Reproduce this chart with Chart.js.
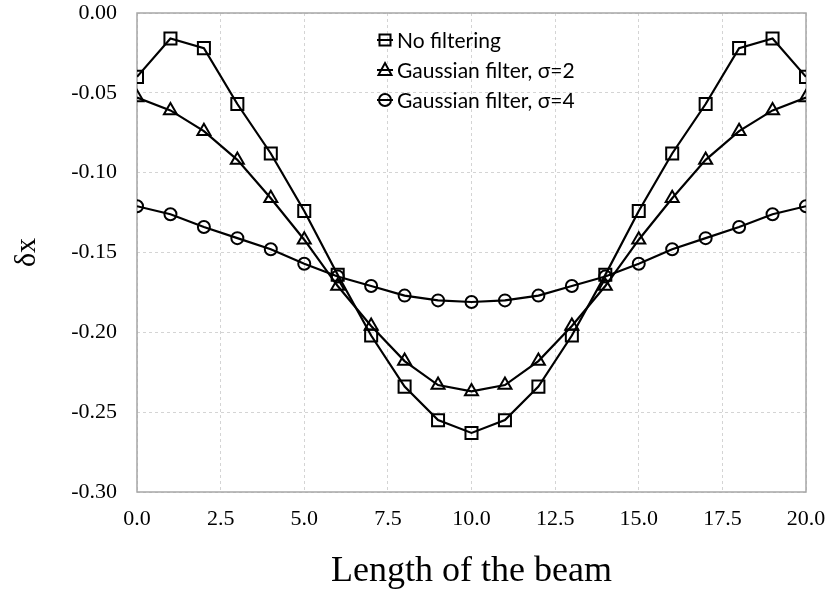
<!DOCTYPE html>
<html lang="en">
<head>
    <meta charset="UTF-8">
    <title>Length of the beam</title>
    <script src="https://cdn.jsdelivr.net/npm/chart.js"></script>
    <style>
        body {
            margin: 0;
            background: #fff;
        }

        .chart-box {
            width: 830px;
            height: 593px;
        }
    </style>
</head>
<body>
    <div class="chart-box">
        <canvas id="beamChart"></canvas>
    </div>

    <script>
        // positions along the beam
        const positions = [0, 1, 2, 3, 4, 5, 6, 7, 8, 9, 10, 11, 12, 13, 14, 15, 16, 17, 18, 19, 20];

        const noFiltering = [-0.040, -0.016, -0.022, -0.057, -0.088, -0.124, -0.164, -0.202, -0.234, -0.255, -0.263,
            -0.255, -0.234, -0.202, -0.164, -0.124, -0.088, -0.057, -0.022, -0.016, -0.040];
        const gaussSigma2 = [-0.053, -0.061, -0.074, -0.092, -0.116, -0.142, -0.171, -0.196, -0.218, -0.233, -0.237,
            -0.233, -0.218, -0.196, -0.171, -0.142, -0.116, -0.092, -0.074, -0.061, -0.053];
        const gaussSigma4 = [-0.121, -0.126, -0.134, -0.141, -0.148, -0.157, -0.165, -0.171, -0.177, -0.180, -0.181,
            -0.180, -0.177, -0.171, -0.165, -0.157, -0.148, -0.141, -0.134, -0.126, -0.121];

        const seriesNames = ['No filtering', 'Gaussian filter, σ=2', 'Gaussian filter, σ=4'];
        const xTicks = [0, 2.5, 5, 7.5, 10, 12.5, 15, 17.5, 20];
        const yTicks = [0, -0.05, -0.10, -0.15, -0.20, -0.25, -0.30];

        const serif = "'Liberation Serif', 'Times New Roman', serif";
        const sans = "Lato, 'Open Sans', sans-serif";

        function toPoints(values) {
            return values.map((v, i) => ({ x: positions[i], y: v }));
        }

        function makeSet(label, values, style, radius) {
            return {
                label: label,
                data: toPoints(values),
                borderColor: '#000',
                backgroundColor: 'rgba(255,255,255,0)',
                borderWidth: 2.2,
                pointStyle: style,
                pointRadius: radius,
                pointBorderWidth: 2,
                pointBorderColor: '#000',
                pointBackgroundColor: 'rgba(255,255,255,0)',
                tension: 0
            };
        }

        function noPadding(scale) {
            scale.paddingTop = 0;
            scale.paddingBottom = 0;
            scale.paddingLeft = 0;
            scale.paddingRight = 0;
        }

        // plot frame drawn on all four sides
        const frame = {
            id: 'frame',
            beforeDatasetsDraw(chart) {
                const { ctx, chartArea: a } = chart;
                ctx.save();
                ctx.strokeStyle = '#a6a6a6';
                ctx.lineWidth = 1.5;
                ctx.strokeRect(a.left, a.top, a.right - a.left, a.bottom - a.top);
                ctx.restore();
            }
        };

        // excel style legend: marker with a short line through it
        const legendBox = {
            id: 'legendBox',
            afterDraw(chart) {
                const ctx = chart.ctx;
                const styles = ['rect', 'triangle', 'circle'];
                const rows = [40, 70, 100];
                const mx = 385;
                ctx.save();
                ctx.strokeStyle = '#000';
                ctx.fillStyle = '#000';
                ctx.lineWidth = 2;
                ctx.font = '21px ' + sans;
                ctx.textBaseline = 'middle';
                seriesNames.forEach((name, i) => {
                    const y = rows[i];
                    ctx.beginPath();
                    ctx.moveTo(mx - 8, y);
                    ctx.lineTo(mx + 8, y);
                    ctx.stroke();
                    ctx.beginPath();
                    if (styles[i] === 'rect') {
                        ctx.rect(mx - 5.5, y - 5.5, 11, 11);
                    } else if (styles[i] === 'triangle') {
                        ctx.moveTo(mx, y - 7);
                        ctx.lineTo(mx + 6.5, y + 5);
                        ctx.lineTo(mx - 6.5, y + 5);
                        ctx.closePath();
                    } else {
                        ctx.arc(mx, y, 6, 0, Math.PI * 2);
                    }
                    ctx.stroke();
                    ctx.fillText(name, 397, y + 1);
                });
                ctx.restore();
            }
        };

        const ctx = document.getElementById('beamChart').getContext('2d');
        const beamChart = new Chart(ctx, {
            type: 'line',
            data: {
                datasets: [
                    makeSet(seriesNames[0], noFiltering, 'rect', 8.5),
                    makeSet(seriesNames[1], gaussSigma2, 'triangle', 7.5),
                    makeSet(seriesNames[2], gaussSigma4, 'circle', 6)
                ]
            },
            plugins: [frame, legendBox],
            options: {
                responsive: true,
                maintainAspectRatio: false,
                animation: false,
                layout: {
                    padding: { left: 0, right: 24, top: 13, bottom: 0 }
                },
                plugins: {
                    legend: { display: false },
                    tooltip: { enabled: false }
                },
                scales: {
                    x: {
                        type: 'linear',
                        min: 0,
                        max: 20,
                        afterBuildTicks: function(scale) {
                            scale.ticks = xTicks.map(v => ({ value: v }));
                        },
                        afterFit: function(scale) {
                            scale.height = 101;
                            noPadding(scale);
                        },
                        grid: {
                            color: '#d4d4d4',
                            lineWidth: 1,
                            drawTicks: false
                        },
                        border: { display: false, dash: [3, 3] },
                        ticks: {
                            color: '#000',
                            padding: 14,
                            font: { family: serif, size: 22 },
                            callback: function(value) {
                                return value.toFixed(1);
                            }
                        },
                        title: {
                            display: true,
                            text: 'Length of the beam',
                            color: '#000',
                            font: { family: serif, size: 36 },
                            padding: { top: 0, bottom: 0 }
                        }
                    },
                    y: {
                        min: -0.30,
                        max: 0,
                        afterBuildTicks: function(scale) {
                            scale.ticks = yTicks.map(v => ({ value: v }));
                        },
                        afterFit: function(scale) {
                            scale.width = 137;
                            noPadding(scale);
                        },
                        grid: {
                            color: '#d4d4d4',
                            lineWidth: 1,
                            drawTicks: false
                        },
                        border: { display: false, dash: [3, 3] },
                        ticks: {
                            color: '#000',
                            padding: 20,
                            font: { family: serif, size: 22 },
                            callback: function(value) {
                                return value.toFixed(2);
                            }
                        },
                        title: {
                            display: true,
                            text: 'δx',
                            color: '#000',
                            font: { family: serif, size: 30 },
                            padding: { top: 9, bottom: 0 }
                        }
                    }
                }
            }
        });
    </script>
</body>
</html>
